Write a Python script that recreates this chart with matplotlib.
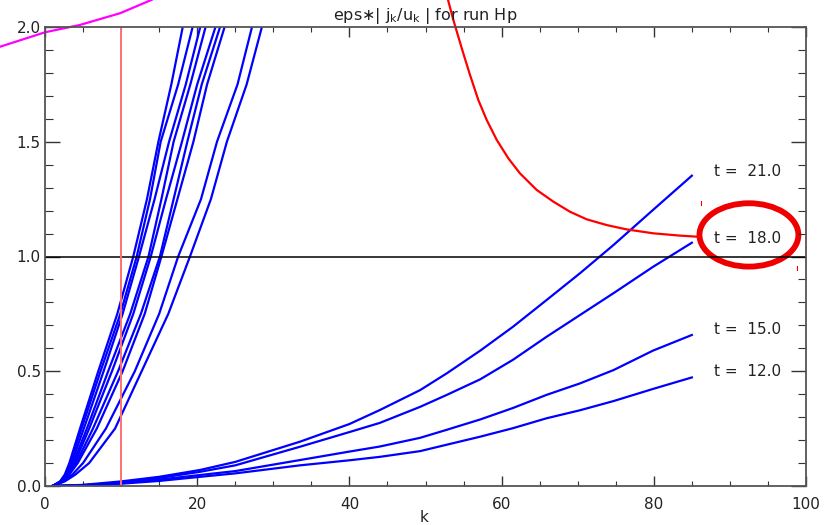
import matplotlib
matplotlib.use("Agg")
import matplotlib.pyplot as plt
from matplotlib.ticker import MultipleLocator, FormatStrFormatter
from matplotlib.patches import Ellipse

# ---- data ----
# steep curves: k positions at which each curve reaches the given levels
steep_levels = [0.0, 0.02, 0.05, 0.1, 0.25, 0.5, 0.75, 1.0, 1.25, 1.5, 1.75, 2.0, 2.2]
steep_k = [
    [1.0, 2.0, 2.6, 3.2, 4.6, 7.0, 9.5, 11.6, 13.4, 14.9, 16.6, 18.1, 19.2],
    [1.0, 2.0, 2.7, 3.3, 4.8, 7.3, 9.9, 12.05, 13.8, 15.2, 17.5, 19.4, 20.6],
    [1.0, 2.1, 2.8, 3.5, 5.1, 7.7, 10.2, 12.35, 14.4, 16.3, 18.5, 20.4, 21.6],
    [1.0, 2.1, 2.9, 3.7, 5.5, 8.3, 11.2, 13.6, 15.3, 16.9, 19.1, 21.1, 22.4],
    [1.0, 2.2, 3.0, 3.9, 5.8, 8.8, 11.6, 13.9, 15.9, 18.0, 20.0, 22.4, 23.7],
    [1.0, 2.2, 3.1, 4.1, 6.3, 9.6, 12.6, 15.1, 16.9, 18.7, 20.6, 23.0, 24.3],
    [1.0, 2.3, 3.2, 4.3, 6.8, 10.2, 13.1, 15.3, 17.4, 19.5, 21.3, 23.6, 24.9],
    [1.0, 2.4, 3.6, 5.0, 8.0, 11.8, 15.0, 17.5, 20.5, 22.6, 25.3, 27.2, 28.6],
    [1.0, 2.6, 4.0, 5.8, 9.2, 12.7, 16.2, 19.05, 21.8, 23.9, 26.5, 28.5, 29.9],
]

# slow curves (labelled), sampled at k
slow_k = [1, 5, 10, 15, 20.4, 25, 33.5, 40, 44, 49.3, 52.8, 57.2, 61.5, 65.9, 70.3, 74.7, 79.9, 85]
slow_t21 = [0.0, 0.005, 0.02, 0.04, 0.07, 0.105, 0.193, 0.27, 0.331, 0.418, 0.491, 0.59, 0.694, 0.81, 0.927, 1.05, 1.203, 1.352]
slow_t18 = [0.0, 0.004, 0.015, 0.035, 0.062, 0.09, 0.171, 0.235, 0.275, 0.345, 0.397, 0.465, 0.55, 0.65, 0.745, 0.84, 0.955, 1.06]
slow_t15 = [0.0, 0.003, 0.012, 0.028, 0.048, 0.065, 0.113, 0.15, 0.172, 0.21, 0.245, 0.29, 0.34, 0.397, 0.447, 0.505, 0.59, 0.658]
slow_t12 = [0.0, 0.003, 0.010, 0.022, 0.040, 0.055, 0.09, 0.112, 0.127, 0.152, 0.18, 0.215, 0.252, 0.295, 0.33, 0.37, 0.423, 0.473]
slow_series = [slow_t21, slow_t18, slow_t15, slow_t12]
slow_labels = ["t =  21.0", "t =  18.0", "t =  15.0", "t =  12.0"]
label_y = [1.37, 1.079, 0.684, 0.497]
label_x = 87.9

# red decreasing curve
red_k = [52.96, 53.66, 54.31, 54.97, 55.85, 56.94, 58.04, 59.36, 60.88, 62.42, 64.61,
         66.80, 68.99, 71.18, 73.81, 76.44, 79.93, 83.44, 85.85]
red_y = [2.118, 2.031, 1.958, 1.885, 1.791, 1.682, 1.595, 1.508, 1.428, 1.362, 1.290,
         1.239, 1.195, 1.162, 1.137, 1.118, 1.101, 1.091, 1.086]

# magenta curve (top-left, outside axes)
mag_k = [-6.5, -5.91, 0.0, 4.6, 9.86, 13.99, 15.0]
mag_y = [1.905, 1.914, 1.977, 2.009, 2.06, 2.118, 2.135]

xticks = [0, 20, 40, 60, 80, 100]
yticks = [0.0, 0.5, 1.0, 1.5, 2.0]

# ---- figure ----
fig = plt.figure(figsize=(8.3, 5.25), dpi=100)
ax = fig.add_axes([45 / 830, 39 / 525, 761 / 830, 459 / 525])
ax.set_xlim(0, 100)
ax.set_ylim(0, 2.0)

blue = "#0000ff"
for ks in steep_k:
    ax.plot(ks, steep_levels, color=blue, lw=1.6)
for ys in slow_series:
    ax.plot(slow_k, ys, color=blue, lw=1.6)
for lab, yy in zip(slow_labels, label_y):
    ax.text(label_x, yy, lab, fontsize=11, color="#222222", va="center", ha="left")

ax.axhline(1.0, color="black", lw=1.1)
ax.plot([10, 10], [0, 2.0], color="#ff7070", lw=1.4)
ax.plot(red_k, red_y, color="#ff0000", lw=1.6, clip_on=False)
ax.plot(mag_k, mag_y, color="#ff00ff", lw=1.6, clip_on=False)

ax.add_patch(Ellipse((92.5, 1.094), 13.0, 0.276, fill=False, edgecolor="#ee0000", lw=4.2, clip_on=False))
ax.plot([86.2, 86.2], [1.225, 1.24], color="#ff0000", lw=0.8)
ax.plot([98.8, 98.8], [0.942, 0.957], color="#ff0000", lw=0.8)

ax.set_xticks(xticks)
ax.set_yticks(yticks)
ax.xaxis.set_minor_locator(MultipleLocator(5))
ax.yaxis.set_minor_locator(MultipleLocator(0.1))
ax.yaxis.set_major_formatter(FormatStrFormatter("%.1f"))
ax.tick_params(which="both", direction="in", top=True, right=True, colors="#333333",
               labelsize=11, labelcolor="#222222")
ax.tick_params(axis="x", which="major", length=7, width=1, pad=8)
ax.tick_params(axis="x", which="minor", length=3.6, width=0.8)
ax.tick_params(axis="y", which="major", length=11, width=1, pad=3)
ax.tick_params(axis="y", which="minor", length=5.5, width=0.8)
for s in ax.spines.values():
    s.set_color("#555555")
    s.set_linewidth(1.3)

ax.set_title(r"eps$\ast$| j$_\mathregular{k}$/u$_\mathregular{k}$ | for run Hp", fontsize=11.5,
             color="#222222", pad=5)
fig.text(424 / 830, 1 - 517 / 525, "k", fontsize=11, color="#222222", ha="center", va="center")

fig.savefig("out.png", dpi=100)
